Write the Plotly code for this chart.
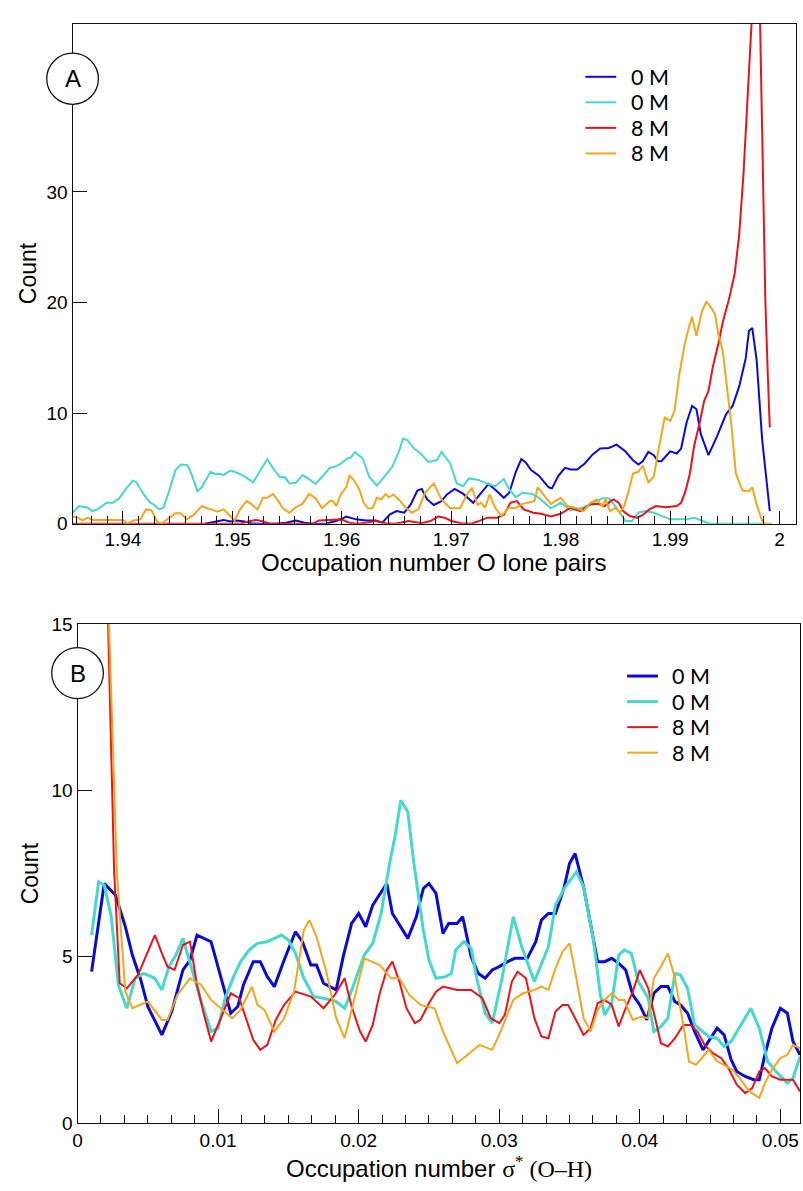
import plotly.graph_objects as go

# ---------------- data: panel A (O lone pairs) ----------------
A_BLUE_X = [1.9475, 1.9486, 1.9492, 1.9498, 1.9504, 1.9511, 1.9517, 1.9525, 1.9540, 1.9549, 1.9558, 1.9566,
            1.9573, 1.9585, 1.9593, 1.9600, 1.9604, 1.9613, 1.9622, 1.9631, 1.9637, 1.9644, 1.9650, 1.9657,
            1.9663, 1.9669, 1.9673, 1.9678, 1.9684, 1.9691, 1.9696, 1.9703, 1.9711, 1.9720, 1.9726, 1.9734,
            1.9741, 1.9748, 1.9753, 1.9759, 1.9764, 1.9768, 1.9773, 1.9780, 1.9789, 1.9792, 1.9798, 1.9804,
            1.9809, 1.9815, 1.9822, 1.9829, 1.9836, 1.9844, 1.9851, 1.9859, 1.9866, 1.9871, 1.9875, 1.9880,
            1.9885, 1.9889, 1.9892, 1.9900, 1.9906, 1.9910, 1.9915, 1.9920, 1.9924, 1.9928, 1.9935, 1.9943,
            1.9951, 1.9957, 1.9963, 1.9969, 1.9972, 1.9975, 1.9979, 1.9984, 1.9991]
A_BLUE_Y = [0, 0.2, 0.35, 0.2, 0.3, 0.2, 0.05, 0, 0, 0.1, 0.3, 0.1,
            0, 0, 0.2, 0.45, 0.65, 0.4, 0.3, 0.3, 0.1, 0.85, 1.15, 1.0,
            1.75, 3.0, 3.15, 2.2, 1.7, 2.05, 2.65, 3.15, 2.7, 1.9, 2.6, 3.6,
            3.0, 2.35, 2.8, 4.7, 5.85, 5.55, 4.85, 4.35, 3.3, 3.2, 4.35, 5.05,
            4.9, 4.9, 5.45, 6.25, 6.8, 6.85, 7.15, 6.55, 5.75, 5.35, 5.65, 6.5,
            6.2, 5.65, 5.65, 6.55, 6.35, 6.8, 9.15, 10.65, 10.35, 8.1, 6.2, 7.95,
            9.9, 10.65, 12.4, 14.95, 17.45, 17.7, 14.8, 7.65, 1.15]

A_CYAN_X = [1.9354, 1.9360, 1.9368, 1.9372, 1.9377, 1.9385, 1.9391, 1.9397, 1.9403, 1.9409, 1.9412, 1.9419,
            1.9425, 1.9428, 1.9433, 1.9437, 1.9443, 1.9448, 1.9453, 1.9459, 1.9463, 1.9468, 1.9472, 1.9480,
            1.9484, 1.9489, 1.9492, 1.9498, 1.9502, 1.9510, 1.9519, 1.9525, 1.9532, 1.9537, 1.9543, 1.9548,
            1.9552, 1.9558, 1.9564, 1.9569, 1.9576, 1.9582, 1.9589, 1.9593, 1.9598, 1.9605, 1.9608, 1.9612,
            1.9619, 1.9625, 1.9632, 1.9640, 1.9646, 1.9652, 1.9656, 1.9660, 1.9666, 1.9672, 1.9679, 1.9687,
            1.9691, 1.9699, 1.9705, 1.9711, 1.9716, 1.9725, 1.9732, 1.9740, 1.9748, 1.9753, 1.9759, 1.9765,
            1.9774, 1.9780, 1.9791, 1.9800, 1.9809, 1.9821, 1.9830, 1.9838, 1.9844, 1.9851, 1.9859, 1.9865,
            1.9871, 1.9877, 1.9885, 1.9892, 1.9900, 1.9915, 1.9922, 1.9930, 1.9936, 1.9985]
A_CYAN_Y = [1.0, 1.6, 1.45, 1.15, 1.3, 1.9, 1.9, 2.35, 3.2, 3.9, 3.8, 2.65,
            1.9, 1.75, 1.3, 1.45, 3.2, 4.85, 5.35, 5.3, 4.4, 2.95, 3.3, 4.7,
            4.5, 4.5, 4.4, 4.8, 4.7, 4.35, 3.75, 4.7, 5.85, 5.05, 4.25, 4.2,
            3.65, 3.7, 4.4, 4.1, 3.6, 4.25, 5.05, 5.15, 5.35, 5.9, 5.95, 6.5,
            5.9, 4.25, 3.45, 4.4, 5.15, 6.5, 7.7, 7.55, 6.8, 6.35, 5.6, 5.75,
            6.5, 5.45, 3.65, 3.4, 4.1, 3.95, 3.65, 3.4, 4.05, 3.1, 2.4, 2.8,
            2.7, 2.35, 1.4, 1.9, 1.2, 1.5, 1.9, 2.3, 2.3, 1.45, 0.25, 0.25,
            1.0, 1.15, 1.0, 0.7, 0.4, 0.4, 0.55, 0.25, 0, 0]

A_RED_X = [1.9354, 1.9507, 1.9516, 1.9522, 1.9528, 1.9534, 1.9573, 1.9579, 1.9589, 1.9599, 1.9607, 1.9614,
           1.9622, 1.9631, 1.9640, 1.9649, 1.9661, 1.9673, 1.9681, 1.9688, 1.9694, 1.9700, 1.9709, 1.9718,
           1.9724, 1.9733, 1.9742, 1.9748, 1.9754, 1.9760, 1.9766, 1.9775, 1.9782, 1.9791, 1.9800, 1.9809,
           1.9818, 1.9827, 1.9834, 1.9840, 1.9845, 1.9848, 1.9853, 1.9857, 1.9863, 1.9870, 1.9875, 1.9881,
           1.9887, 1.9896, 1.9906, 1.9910, 1.9914, 1.9918, 1.9922, 1.9927, 1.9931, 1.9935, 1.9939, 1.9944,
           1.9948, 1.9954, 1.9959, 1.9963, 1.9967, 1.9970, 1.9978, 1.9982, 1.9984, 1.9987, 1.9989, 1.9991]
A_RED_Y = [0, 0, 0.25, 0.35, 0.2, 0, 0, 0.3, 0.35, 0.4, 0.1, 0,
           0.1, 0.25, 0.05, 0, 0.25, 0.05, 0.25, 0.65, 0.55, 0.25, 0.05, 0,
           0.2, 0.55, 0.55, 0.8, 1.9, 2.05, 1.3, 1.0, 0.9, 0.65, 0.9, 1.45,
           1.15, 1.75, 1.8, 1.6, 2.0, 2.2, 1.9, 1.15, 0.7, 0.55, 0.8, 1.3,
           1.6, 1.5, 1.6, 1.9, 2.95, 4.55, 7.1, 9.15, 11.1, 12.0, 14.2, 16.25,
           18.2, 20.4, 22.65, 26.05, 31.65, 38.2, 52.0, 46.0, 35.0, 20.0, 14.0, 8.7]

A_ORANGE_X = [1.9354, 1.9359, 1.9363, 1.9368, 1.9372, 1.9400, 1.9404, 1.9410, 1.9416, 1.9421, 1.9426, 1.9431,
              1.9435, 1.9442, 1.9448, 1.9453, 1.9458, 1.9465, 1.9472, 1.9477, 1.9481, 1.9486, 1.9492, 1.9496,
              1.9502, 1.9507, 1.9513, 1.9517, 1.9523, 1.9528, 1.9532, 1.9537, 1.9542, 1.9546, 1.9552, 1.9558,
              1.9564, 1.9570, 1.9576, 1.9582, 1.9589, 1.9592, 1.9595, 1.9599, 1.9604, 1.9607, 1.9611, 1.9616,
              1.9620, 1.9624, 1.9628, 1.9632, 1.9636, 1.9640, 1.9643, 1.9647, 1.9652, 1.9658, 1.9664, 1.9670,
              1.9676, 1.9684, 1.9691, 1.9699, 1.9708, 1.9714, 1.9719, 1.9724, 1.9727, 1.9731, 1.9735, 1.9740,
              1.9746, 1.9752, 1.9759, 1.9765, 1.9773, 1.9776, 1.9779, 1.9785, 1.9791, 1.9800, 1.9806, 1.9815,
              1.9821, 1.9827, 1.9833, 1.9838, 1.9841, 1.9845, 1.9850, 1.9854, 1.9858, 1.9862, 1.9866, 1.9871,
              1.9875, 1.9880, 1.9885, 1.9889, 1.9895, 1.9900, 1.9904, 1.9908, 1.9913, 1.9917, 1.9920, 1.9924,
              1.9929, 1.9933, 1.9936, 1.9941, 1.9944, 1.9948, 1.9951, 1.9956, 1.9960, 1.9966, 1.9972, 1.9975,
              1.9979, 1.9984, 1.9987, 1.9993]
A_ORANGE_Y = [0.65, 0.55, 0.3, 0.55, 0.35, 0.35, 0.05, 0.3, 0.4, 1.3, 1.25, 0.25,
              0, 0.55, 0.95, 0.95, 0.4, 0.85, 1.6, 1.4, 1.3, 1.1, 1.3, 0.9,
              0.3, 1.3, 2.05, 1.8, 1.3, 2.35, 2.35, 2.7, 2.05, 1.4, 1.0, 1.5,
              1.8, 2.7, 2.3, 1.4, 2.05, 2.05, 1.6, 2.65, 3.3, 4.35, 3.95, 3.1,
              1.9, 1.4, 1.4, 2.35, 2.2, 2.7, 2.4, 2.65, 2.2, 1.5, 1.0, 1.3,
              2.8, 3.65, 2.2, 1.4, 1.4, 2.6, 3.25, 1.7, 1.9, 1.45, 2.65, 1.45,
              0.7, 1.4, 1.45, 1.8, 2.0, 2.05, 3.3, 2.5, 1.8, 2.35, 1.6, 1.4,
              1.15, 1.9, 2.2, 1.6, 2.2, 1.15, 1.45, 1.0, 1.6, 2.95, 4.55, 4.7,
              5.25, 3.75, 4.25, 6.5, 9.6, 9.3, 10.2, 13.3, 16.1, 17.75, 18.7, 17.0,
              19.2, 20.05, 19.75, 18.95, 17.15, 15.65, 13.0, 8.85, 4.55, 3.0, 2.95, 3.3,
              1.75, 0.25, 0, 0]

# ---------------- data: panel B (sigma* O-H) ----------------
B_BLUE_X = [0.0010, 0.0016, 0.0019, 0.0027, 0.0034, 0.0039, 0.0045, 0.0050, 0.0060, 0.0067, 0.0075, 0.0080,
            0.0085, 0.0095, 0.0103, 0.0109, 0.0114, 0.0118, 0.0125, 0.0130, 0.0135, 0.0140, 0.0147, 0.0155,
            0.0160, 0.0166, 0.0170, 0.0175, 0.0184, 0.0189, 0.0195, 0.0200, 0.0205, 0.0210, 0.0220, 0.0224,
            0.0235, 0.0241, 0.0246, 0.0250, 0.0255, 0.0260, 0.0264, 0.0270, 0.0274, 0.0280, 0.0285, 0.0290,
            0.0295, 0.0300, 0.0306, 0.0311, 0.0320, 0.0326, 0.0330, 0.0335, 0.0340, 0.0346, 0.0350, 0.0354,
            0.0360, 0.0366, 0.0370, 0.0375, 0.0380, 0.0385, 0.0390, 0.0395, 0.0400, 0.0405, 0.0410, 0.0415,
            0.0420, 0.0425, 0.0429, 0.0434, 0.0439, 0.0445, 0.0449, 0.0455, 0.0460, 0.0465, 0.0469, 0.0475,
            0.0481, 0.0485, 0.0489, 0.0494, 0.0500, 0.0505, 0.0509, 0.0514]
B_BLUE_Y = [4.55, 6.3, 7.2, 6.85, 5.9, 5.05, 4.3, 3.5, 2.65, 3.35, 4.6, 4.9,
            5.65, 5.45, 4.25, 3.3, 3.5, 4.15, 4.85, 4.85, 4.4, 4.1, 4.9, 5.75,
            5.45, 4.75, 4.75, 4.2, 4.0, 5.0, 6.0, 6.3, 5.9, 6.55, 7.2, 6.3,
            5.55, 6.2, 7.05, 7.2, 6.9, 5.7, 6.0, 6.0, 6.2, 5.0, 4.5, 4.35,
            4.6, 4.7, 4.85, 4.95, 4.95, 5.45, 6.1, 6.3, 6.3, 7.05, 7.8, 8.1,
            7.1, 5.8, 4.85, 4.85, 4.95, 4.8, 4.6, 3.85, 3.55, 3.1, 3.9, 4.1,
            4.1, 3.65, 3.55, 3.3, 2.75, 2.2, 2.45, 2.85, 2.65, 1.9, 1.55, 1.4,
            1.3, 1.3, 2.05, 2.85, 3.45, 3.3, 2.45, 2.05]

B_CYAN_X = [0.0010, 0.0015, 0.0019, 0.0024, 0.0029, 0.0035, 0.0041, 0.0047, 0.0055, 0.0060, 0.0065, 0.0070,
            0.0075, 0.0081, 0.0088, 0.0095, 0.0100, 0.0105, 0.0111, 0.0116, 0.0122, 0.0128, 0.0135, 0.0140,
            0.0145, 0.0150, 0.0155, 0.0161, 0.0168, 0.0175, 0.0181, 0.0184, 0.0190, 0.0196, 0.0204, 0.0210,
            0.0216, 0.0222, 0.0226, 0.0230, 0.0235, 0.0239, 0.0246, 0.0250, 0.0255, 0.0262, 0.0266, 0.0269,
            0.0275, 0.0280, 0.0284, 0.0290, 0.0295, 0.0302, 0.0310, 0.0316, 0.0325, 0.0335, 0.0340, 0.0347,
            0.0355, 0.0360, 0.0367, 0.0372, 0.0375, 0.0380, 0.0385, 0.0389, 0.0394, 0.0399, 0.0406, 0.0410,
            0.0415, 0.0420, 0.0425, 0.0429, 0.0434, 0.0439, 0.0443, 0.0449, 0.0455, 0.0460, 0.0465, 0.0472,
            0.0479, 0.0485, 0.0491, 0.0498, 0.0505, 0.0509, 0.0514]
B_CYAN_Y = [5.65, 7.25, 7.15, 6.2, 4.15, 3.45, 4.35, 4.5, 4.35, 4.0, 4.7, 5.05,
            5.55, 4.7, 3.65, 2.75, 2.85, 3.75, 4.4, 4.85, 5.2, 5.4, 5.45, 5.55,
            5.65, 5.5, 5.1, 4.35, 3.8, 3.75, 3.7, 3.65, 3.45, 4.1, 5.05, 5.4,
            6.3, 7.8, 8.65, 9.7, 9.35, 7.9, 5.8, 4.9, 4.35, 4.4, 4.5, 5.2,
            5.45, 5.25, 4.35, 3.3, 3.0, 4.35, 6.2, 5.3, 4.25, 5.3, 6.55, 7.1,
            7.55, 7.1, 5.5, 3.85, 3.25, 3.6, 5.05, 5.2, 5.1, 4.25, 3.75, 2.75,
            2.9, 3.15, 4.5, 4.45, 4.05, 2.95, 2.8, 2.6, 2.55, 2.3, 2.45, 2.95,
            3.45, 2.85, 1.85, 1.5, 1.2, 1.35, 2.0]

B_RED_X = [0.0020, 0.0026, 0.0030, 0.0035, 0.0043, 0.0055, 0.0060, 0.0064, 0.0069, 0.0075, 0.0080, 0.0085,
           0.0090, 0.0095, 0.0102, 0.0109, 0.0115, 0.0120, 0.0125, 0.0130, 0.0135, 0.0141, 0.0147, 0.0155,
           0.0166, 0.0175, 0.0183, 0.0190, 0.0195, 0.0201, 0.0205, 0.0210, 0.0215, 0.0220, 0.0224, 0.0229,
           0.0234, 0.0240, 0.0244, 0.0250, 0.0255, 0.0260, 0.0270, 0.0280, 0.0288, 0.0294, 0.0300, 0.0304,
           0.0309, 0.0313, 0.0319, 0.0325, 0.0330, 0.0335, 0.0340, 0.0345, 0.0349, 0.0354, 0.0360, 0.0365,
           0.0370, 0.0375, 0.0380, 0.0385, 0.0389, 0.0395, 0.0400, 0.0406, 0.0410, 0.0415, 0.0420, 0.0425,
           0.0431, 0.0436, 0.0441, 0.0446, 0.0452, 0.0458, 0.0463, 0.0469, 0.0475, 0.0480, 0.0485, 0.0489,
           0.0494, 0.0500, 0.0509, 0.0514]
B_RED_Y = [18.0, 7.6, 4.2, 4.05, 4.45, 5.65, 5.1, 4.7, 4.6, 5.35, 5.45, 4.15,
           3.25, 2.45, 3.15, 3.9, 3.75, 3.15, 2.5, 2.2, 2.35, 3.1, 3.55, 3.95,
           3.8, 3.45, 3.85, 4.35, 3.5, 2.75, 2.45, 2.95, 3.9, 4.6, 4.85, 4.25,
           3.45, 3.0, 3.1, 3.6, 3.95, 4.1, 4.0, 4.0, 3.75, 3.15, 3.0, 3.25,
           4.25, 4.55, 4.35, 3.15, 2.6, 2.55, 3.35, 3.55, 3.55, 3.15, 2.65, 2.85,
           3.6, 3.7, 3.55, 2.9, 3.35, 3.95, 4.6, 4.05, 3.35, 2.4, 2.3, 2.55,
           2.95, 2.95, 2.75, 2.35, 2.1, 1.95, 1.65, 1.15, 0.9, 1.05, 1.55, 1.65,
           1.4, 1.3, 1.3, 0.95]

B_ORANGE_X = [0.0021, 0.0028, 0.0034, 0.0039, 0.0050, 0.0060, 0.0064, 0.0071, 0.0080, 0.0088, 0.0095, 0.0102,
              0.0110, 0.0116, 0.0124, 0.0128, 0.0133, 0.0140, 0.0147, 0.0154, 0.0161, 0.0165, 0.0170, 0.0177,
              0.0184, 0.0190, 0.0196, 0.0204, 0.0215, 0.0223, 0.0229, 0.0236, 0.0244, 0.0254, 0.0260, 0.0270,
              0.0276, 0.0286, 0.0295, 0.0301, 0.0310, 0.0317, 0.0325, 0.0330, 0.0335, 0.0340, 0.0345, 0.0350,
              0.0354, 0.0360, 0.0365, 0.0370, 0.0375, 0.0380, 0.0385, 0.0389, 0.0395, 0.0401, 0.0406, 0.0410,
              0.0415, 0.0420, 0.0425, 0.0431, 0.0435, 0.0440, 0.0445, 0.0449, 0.0455, 0.0460, 0.0466, 0.0471,
              0.0478, 0.0485, 0.0489, 0.0494, 0.0500, 0.0505, 0.0509, 0.0514]
B_ORANGE_Y = [16.8, 7.5, 3.95, 3.45, 3.65, 3.1, 3.1, 3.85, 4.35, 4.15, 3.7, 3.45,
              3.15, 3.4, 4.1, 3.55, 3.4, 2.75, 3.15, 3.95, 5.8, 6.1, 5.6, 4.55,
              3.15, 2.55, 3.55, 4.95, 4.75, 4.35, 4.35, 3.85, 3.55, 3.45, 2.75, 1.8,
              2.0, 2.35, 2.2, 2.75, 3.7, 3.9, 4.0, 4.1, 4.0, 4.65, 5.15, 5.4,
              4.55, 3.15, 2.75, 3.4, 3.7, 3.9, 3.7, 3.7, 3.1, 3.2, 3.15, 4.35,
              4.7, 5.1, 4.35, 2.95, 1.85, 1.75, 2.0, 2.2, 1.85, 1.75, 1.6, 1.35,
              0.95, 0.75, 1.2, 1.6, 1.95, 2.05, 2.35, 2.25]

SERIES_NAMES = ["0 M", "0 M", "8 M", "8 M"]
SERIES_COLORS = ["#0a0ad8", "#45d8cc", "#e8141c", "#f5a51c"]

A_XTICKVALS = [1.94, 1.95, 1.96, 1.97, 1.98, 1.99, 2.00]
A_XTICKTEXT = ["1.94", "1.95", "1.96", "1.97", "1.98", "1.99", "2"]
A_YTICKVALS = [0, 10, 20, 30]
B_XTICKVALS = [0, 0.01, 0.02, 0.03, 0.04, 0.05]
B_XTICKTEXT = ["0", "0.01", "0.02", "0.03", "0.04", "0.05"]
B_YTICKVALS = [0, 5, 10, 15]

# ---------------- layout helpers ----------------
W, H = 803, 1191


def px(x):
    return x / W


def py(y):
    return 1 - y / H


FONT = "Liberation Sans, Arial, sans-serif"
LEG_FONT = "Lato, Noto Sans, sans-serif"

fig = go.Figure()

A_SERIES = [(A_BLUE_X, A_BLUE_Y), (A_CYAN_X, A_CYAN_Y), (A_RED_X, A_RED_Y), (A_ORANGE_X, A_ORANGE_Y)]
B_SERIES = [(B_BLUE_X, B_BLUE_Y), (B_CYAN_X, B_CYAN_Y), (B_RED_X, B_RED_Y), (B_ORANGE_X, B_ORANGE_Y)]
A_WIDTHS = [2, 2, 2, 2]
B_WIDTHS = [3, 3, 2, 2]

for i, (xs, ys) in enumerate(A_SERIES):
    fig.add_trace(go.Scatter(x=xs, y=ys, mode="lines", name=SERIES_NAMES[i],
                             line=dict(color=SERIES_COLORS[i], width=A_WIDTHS[i]),
                             xaxis="x", yaxis="y", showlegend=False))
for i, (xs, ys) in enumerate(B_SERIES):
    fig.add_trace(go.Scatter(x=xs, y=ys, mode="lines", name=SERIES_NAMES[i],
                             line=dict(color=SERIES_COLORS[i], width=B_WIDTHS[i]),
                             xaxis="x2", yaxis="y2", showlegend=False))

axis_common = dict(showgrid=False, zeroline=False, showline=True, linecolor="#111", linewidth=1.3,
                   mirror=True, ticks="inside", tickcolor="#111", tickwidth=1.3,
                   tickfont=dict(family=FONT, size=19, color="black"))

fig.update_layout(
    width=W, height=H, autosize=False,
    margin=dict(l=0, r=0, t=0, b=0),
    paper_bgcolor="white", plot_bgcolor="white",
    font=dict(family=FONT, color="black"),
    xaxis=dict(domain=[px(68), px(796)], range=[1.9354, 2.0015], anchor="y",
               tickvals=A_XTICKVALS, ticktext=A_XTICKTEXT, ticklen=13, ticklabelstandoff=-2,
               minor=dict(ticks="inside", ticklen=8, tickwidth=1.1, tickcolor="#111", dtick=0.01 / 7, tick0=1.94),
               **axis_common),
    yaxis=dict(domain=[py(523), py(14)], range=[0, 45.2], anchor="x",
               tickvals=A_YTICKVALS, ticklen=14, **axis_common),
    xaxis2=dict(domain=[px(73), px(800)], range=[0, 0.0514], anchor="y2",
                tickvals=B_XTICKVALS, ticktext=B_XTICKTEXT, ticklen=14,
                minor=dict(ticks="inside", ticklen=8, tickwidth=1.1, tickcolor="#111", dtick=0.01 / 6, tick0=0),
                **axis_common),
    yaxis2=dict(domain=[py(1133), py(625)], range=[0, 15], anchor="x2",
                tickvals=B_YTICKVALS, ticklen=14, **axis_common),
)

annotations = []
shapes = []

# axis titles
annotations.append(dict(x=px(432), y=py(577), xref="paper", yref="paper", showarrow=False,
                        text="Occupation number O lone pairs", font=dict(family=FONT, size=24),
                        xanchor="center", yanchor="bottom", borderpad=0))
annotations.append(dict(x=px(23), y=py(268), xref="paper", yref="paper", showarrow=False,
                        text="Count", textangle=-90, font=dict(family=FONT, size=23),
                        xanchor="center", yanchor="middle"))
annotations.append(dict(x=px(437), y=py(1194), xref="paper", yref="paper", showarrow=False,
                        text="Occupation number <span style='font-family:Liberation Serif,serif'>σ<sup>*</sup> (O–H)</span>",
                        font=dict(family=FONT, size=24), xanchor="center", yanchor="bottom", borderpad=0))
annotations.append(dict(x=px(25), y=py(879), xref="paper", yref="paper", showarrow=False,
                        text="Count", textangle=-90, font=dict(family=FONT, size=23),
                        xanchor="center", yanchor="middle"))

# panel labels in circles
for label, cx, cy in [("A", 68, 70), ("B", 73, 675)]:
    r = 26
    shapes.append(dict(type="circle", xref="paper", yref="paper", x0=px(cx - r), x1=px(cx + r),
                       y0=py(cy + r), y1=py(cy - r), fillcolor="white", line=dict(color="#111", width=1.3),
                       layer="above"))
    annotations.append(dict(x=px(cx), y=py(cy), xref="paper", yref="paper", showarrow=False, text=label,
                            font=dict(family=FONT, size=24, color="black"), xanchor="center", yanchor="middle"))

# legends (one per panel)
for (lx0, lx1, tx, y0) in [(584, 615, 629, 68), (626, 657, 670, 678)]:
    for i in range(4):
        yy = y0 + 26 * i
        wdt = 2 if y0 < 300 else (3 if i < 2 else 2)
        shapes.append(dict(type="line", xref="paper", yref="paper", x0=px(lx0), x1=px(lx1),
                           y0=py(yy), y1=py(yy), line=dict(color=SERIES_COLORS[i], width=wdt), layer="above"))
        annotations.append(dict(x=px(tx), y=py(yy), xref="paper", yref="paper", showarrow=False,
                                text=SERIES_NAMES[i], font=dict(family=LEG_FONT, size=21.5, color="black"),
                                xanchor="left", yanchor="middle", borderpad=0))

fig.update_layout(annotations=annotations, shapes=shapes)

# make the page itself margin-free so the 803x1191 figure fills the window exactly
fig.write_html("out.html", post_script="document.body.style.margin='0px';document.body.style.padding='0px';")
